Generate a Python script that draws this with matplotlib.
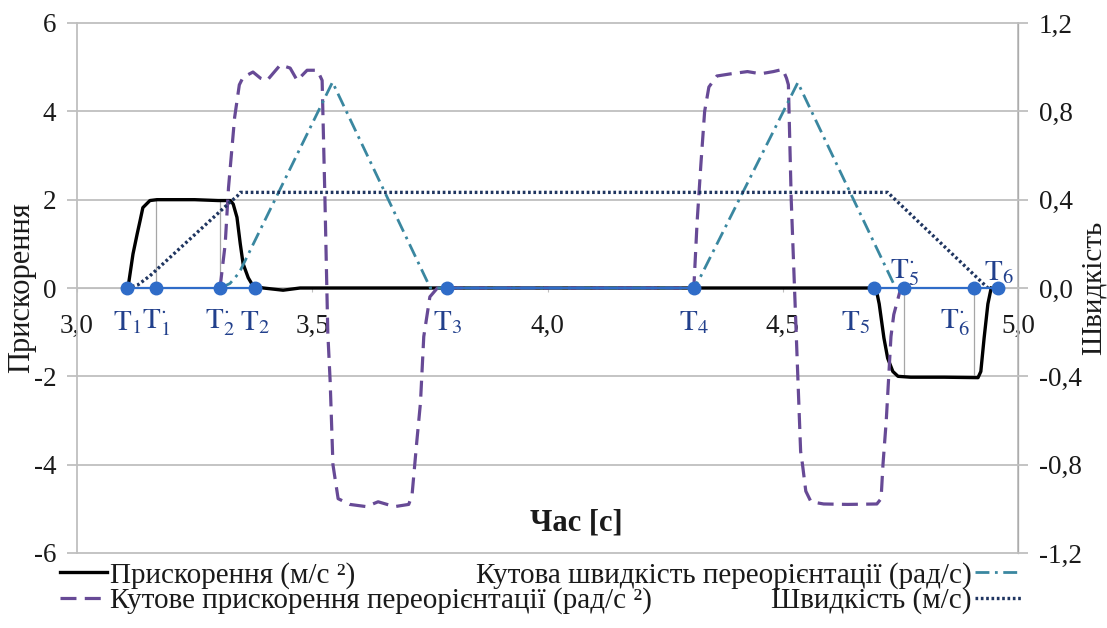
import matplotlib
matplotlib.use("Agg")
import matplotlib.pyplot as plt
from matplotlib.ticker import FixedLocator

plt.rcParams['font.family'] = ['Liberation Serif', 'DejaVu Serif']
plt.rcParams['mathtext.fontset'] = 'stix'

### DATA (time in s)
# linear acceleration, m/s^2 (left axis)
acc_t = [3.106, 3.109, 3.119, 3.128, 3.134, 3.140, 3.155, 3.170, 3.25, 3.30, 3.326,
         3.332, 3.340, 3.347, 3.353, 3.364, 3.374, 3.396, 3.438, 3.474, 4.698,
         4.705, 4.715, 4.723, 4.734, 4.745, 4.772, 4.843, 4.915, 4.921, 4.928,
         4.936, 4.943]
acc_v = [0.0, 0.05, 0.77, 1.23, 1.52, 1.82, 1.98, 2.0, 2.0, 1.98, 1.98,
         1.9, 1.6, 1.0, 0.55, 0.23, 0.05, 0.0, -0.05, 0.0, 0.0,
         -0.36, -1.13, -1.59, -1.89, -2.0, -2.02, -2.02, -2.03, -1.89, -1.13,
         -0.36, 0.0]

# angular acceleration of reorientation, rad/s^2 (left axis)
aacc_t = [3.304, 3.315, 3.322, 3.335, 3.345, 3.353, 3.374, 3.39, 3.404, 3.42,
          3.432, 3.453, 3.468, 3.489, 3.511, 3.521, 3.527, 3.533, 3.538, 3.544,
          3.555, 3.58, 3.615, 3.64, 3.675, 3.705, 3.712, 3.722, 3.73, 3.737,
          3.75, 3.766, 4.311, 4.318, 4.326, 4.334, 4.343, 4.36, 4.39, 4.425,
          4.453, 4.48, 4.50, 4.508, 4.512, 4.518, 4.525, 4.532, 4.538, 4.542,
          4.549, 4.56, 4.587, 4.638, 4.70, 4.709, 4.713, 4.72, 4.73, 4.736, 4.751]
aacc_v = [0.0, 1.0, 2.27, 3.86, 4.6, 4.77, 4.89, 4.75, 4.70, 4.9,
          5.05, 4.98, 4.70, 4.93, 4.93, 4.70, 2.0, -1.0, -2.1, -4.0,
          -4.77, -4.9, -4.95, -4.84, -4.95, -4.9, -4.7, -3.5, -2.6, -1.1,
          -0.2, 0.0, 0.0, 1.5, 2.8, 4.0, 4.55, 4.8, 4.85, 4.9,
          4.85, 4.9, 4.95, 4.75, 4.6, 2.0, 0.0, -2.0, -3.7, -4.0,
          -4.6, -4.84, -4.89, -4.9, -4.89, -4.77, -4.0, -3.0, -1.1, -0.6, 0.0]

# angular velocity of reorientation, rad/s (right axis)
avel_t = [3.304, 3.325, 3.345, 3.543, 3.751, 4.311, 4.325, 4.532, 4.740]
avel_v = [0.0, 0.02, 0.07, 0.932, 0.0, 0.0, 0.05, 0.93, 0.0]

# speed, m/s (right axis)
vel_t = [3.106, 3.13, 3.155, 3.326, 3.340, 3.347, 4.723, 4.936]
vel_v = [0.0, 0.015, 0.055, 0.39, 0.415, 0.433, 0.433, 0.0]

# characteristic moments
pt_names = [r'$\mathrm{T}_1$', r'$\mathrm{T}^{\cdot}_1$', r'$\mathrm{T}^{\cdot}_2$',
            r'$\mathrm{T}_2$', r'$\mathrm{T}_3$', r'$\mathrm{T}_4$', r'$\mathrm{T}_5$',
            r'$\mathrm{T}^{\cdot}_5$', r'$\mathrm{T}^{\cdot}_6$', r'$\mathrm{T}_6$']
pt_t = [3.106, 3.168, 3.304, 3.379, 3.787, 4.311, 4.694, 4.757, 4.906, 4.957]
pt_groups = [[0, 1, 2, 3], [4, 5], [6, 7, 8, 9]]
drop_t = [3.168, 3.304, 4.757, 4.906]
drop_v = [2.0, 2.0, -2.0, -2.0]

x_ticks = [3.0, 3.5, 4.0, 4.5, 5.0]
x_labels = ['3,0', '3,5', '4,0', '4,5', '5,0']
yl_ticks = [-6, -4, -2, 0, 2, 4, 6]
yl_labels = ['-6', '-4', '-2', '0', '2', '4', '6']
yr_ticks = [-1.2, -0.8, -0.4, 0.0, 0.4, 0.8, 1.2]
yr_labels = ['-1,2', '-0,8', '-0,4', '0,0', '0,4', '0,8', '1,2']

W, H = 1107, 628
GRID = '#bfbfbf'
TXT = '#1a1a1a'
BLUE = '#2f6cc8'
TBLUE = '#22408c'

fig = plt.figure(figsize=(W / 100, H / 100), dpi=100)
ax = fig.add_axes([77 / W, 1 - 553 / H, (1018 - 77) / W, (553 - 23) / H])
ax2 = ax.twinx()

ax.set_xlim(3.0, 5.0)
ax.set_ylim(-6, 6)
ax2.set_ylim(-1.2, 1.2)

# grid lines (Excel style)
for v in yl_ticks:
    ax.axhline(v, color=GRID, lw=1.3, zorder=0.5, clip_on=False)

ax.spines['top'].set_visible(False)
ax2.spines['top'].set_visible(False)
ax.spines['bottom'].set_position(('data', 0))
ax.spines['bottom'].set_color(GRID)
ax.spines['left'].set_color(GRID)
ax.spines['left'].set_linewidth(1.3)
ax2.spines['right'].set_color(GRID)
ax2.spines['right'].set_linewidth(1.3)
ax2.spines['left'].set_visible(False)
ax2.spines['bottom'].set_visible(False)

ax.xaxis.set_major_locator(FixedLocator(x_ticks))
ax.set_xticklabels(x_labels)
ax.set_yticks(yl_ticks)
ax.set_yticklabels(yl_labels)
ax2.set_yticks(yr_ticks)
ax2.set_yticklabels(yr_labels)
ax.tick_params(axis='x', direction='out', length=3, color=GRID, pad=16,
               labelsize=19.5, labelcolor=TXT)
ax.tick_params(axis='y', direction='out', length=7, width=1.3, color=GRID, pad=8,
               labelsize=19.5, labelcolor=TXT)
ax2.tick_params(axis='y', direction='out', length=7, width=1.3, color=GRID, pad=8,
                labelsize=19.5, labelcolor=TXT)

# drop lines
ax.vlines(drop_t, 0, drop_v, color='#a6a6a6', lw=0.9, zorder=1)

l_acc, = ax.plot(acc_t, acc_v, color='black', lw=2.4, zorder=3,
                 label='Прискорення (м/с ²)')
l_aacc, = ax.plot(aacc_t, aacc_v, color='#674a96', lw=2.3, dashes=(5, 2.6),
                  zorder=3, label='Кутове прискорення переорієнтації (рад/с ²)')
l_avel, = ax2.plot(avel_t, avel_v, color='#3a87a0', lw=2.0, dashes=(5, 2, 1, 2),
                   zorder=3, label='Кутова швидкість переорієнтації (рад/с)')
l_vel, = ax2.plot(vel_t, vel_v, color='#1f3560', lw=2.4, dashes=(0.8, 0.8),
                  zorder=3, label='Швидкість (м/с)')

# characteristic points
for g in pt_groups:
    ax2.plot([pt_t[i] for i in g], [0] * len(g), color=BLUE, lw=1.6,
             marker='o', ms=9, zorder=5)

place = ['b', 'b', 'b', 'b', 'b', 'b', 'bl', 'a', 'bl', 'a']
for name, t, p in zip(pt_names, pt_t, place):
    if p == 'a':
        off, ha = (1, 11), 'center'
    elif p == 'bl':
        off, ha = (-3, -25), 'right'
    else:
        off, ha = (0, -25), 'center'
    ax2.annotate(name, xy=(t, 0), xytext=off, textcoords='offset points',
                 ha=ha, va='center', fontsize=21, color=TBLUE, zorder=6)

ax.set_ylabel('Прискорення', fontsize=22, color=TXT, va='center')
ax.yaxis.set_label_coords((22 - 77) / 941, 0.5)
ax2.set_ylabel('Швидкість', fontsize=21, color=TXT, rotation=90, va='center')
ax2.yaxis.set_label_coords((1094 - 77) / 941, 0.5)
fig.text(576 / W, 1 - 523 / H, 'Час [с]', fontsize=22, fontweight='bold',
         ha='center', va='center', color=TXT)

leg_kw = dict(frameon=False, fontsize=21, handlelength=1.6, handletextpad=0.12,
              labelspacing=-0.05, borderpad=0, borderaxespad=0, labelcolor=TXT)
fig.legend(handles=[l_acc, l_aacc], loc='upper left',
           bbox_to_anchor=(60 / W, 1 - 562 / H), **leg_kw)
fig.legend(handles=[l_avel, l_vel], loc='upper right', markerfirst=False,
           bbox_to_anchor=(1022 / W, 1 - 562 / H), **leg_kw)

fig.savefig('out.png', dpi=100)
